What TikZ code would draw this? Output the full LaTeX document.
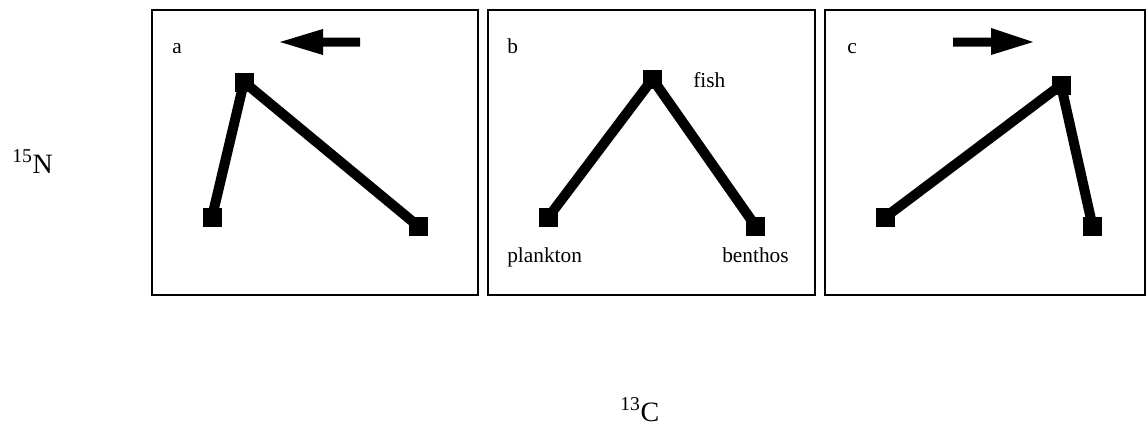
\documentclass[tikz,border=0pt]{standalone}
\usepackage{fontspec}
\setmainfont{Liberation Serif}
\begin{document}
\begin{tikzpicture}[x=0.75pt,y=-0.75pt,
  panel/.style={draw=black,line width=1.1pt},
  sq/.style={fill=black,inner sep=0pt,minimum size=14.25pt,shape=rectangle},
  link/.style={line width=7.5pt},
  lbl/.style={inner sep=0pt,anchor=base west,font=\fontsize{16}{19}\selectfont},
  big/.style={inner sep=0pt,anchor=base west,font=\fontsize{21}{25}\selectfont}]
\useasboundingbox (0,0) rectangle (1146,425);
% panels
\draw[panel] (152,10) rectangle (478,295);
\draw[panel] (488,10) rectangle (815,295);
\draw[panel] (825,10) rectangle (1145,295);
% panel labels
\node[lbl] (la) at (172,53) {a};
\node[lbl] (lb) at (507,53) {b};
\node[lbl] (lc) at (847,53) {c};
% arrows
\fill (280,42) -- (323,29) -- (323,37.5) -- (360,37.5) -- (360,46.5) -- (323,46.5) -- (323,55) -- cycle;
\fill (1033,42) -- (991,28) -- (991,37.5) -- (953,37.5) -- (953,46.5) -- (991,46.5) -- (991,55) -- cycle;
% panel a
\node[sq] (at) at (244,82) {};
\node[sq] (al) at (212,217) {};
\node[sq] (ar) at (418,226) {};
\draw[link] (al.center) -- (at.center) -- (ar.center);
% panel b
\node[sq] (bt) at (652.5,79) {};
\node[sq] (bl) at (548.5,217) {};
\node[sq] (br) at (755.5,226) {};
\draw[link] (bl.center) -- (bt.center) -- (br.center);
\node[lbl] (fish) at (693,87) {fish};
\node[lbl] (plank) at (507,262) {plankton};
\node[lbl] (benth) at (722,262) {benthos};
% panel c
\node[sq] (ct) at (1061,85) {};
\node[sq] (cl) at (885.5,217) {};
\node[sq] (cr) at (1092.5,226) {};
\draw[link] (cl.center) -- (ct.center) -- (cr.center);
% axis labels
\node[big] (nlab) at (12,173) {\textsuperscript{15}N};
\node[big] (clab) at (620,421) {\textsuperscript{13}C};
\end{tikzpicture}
\end{document}
